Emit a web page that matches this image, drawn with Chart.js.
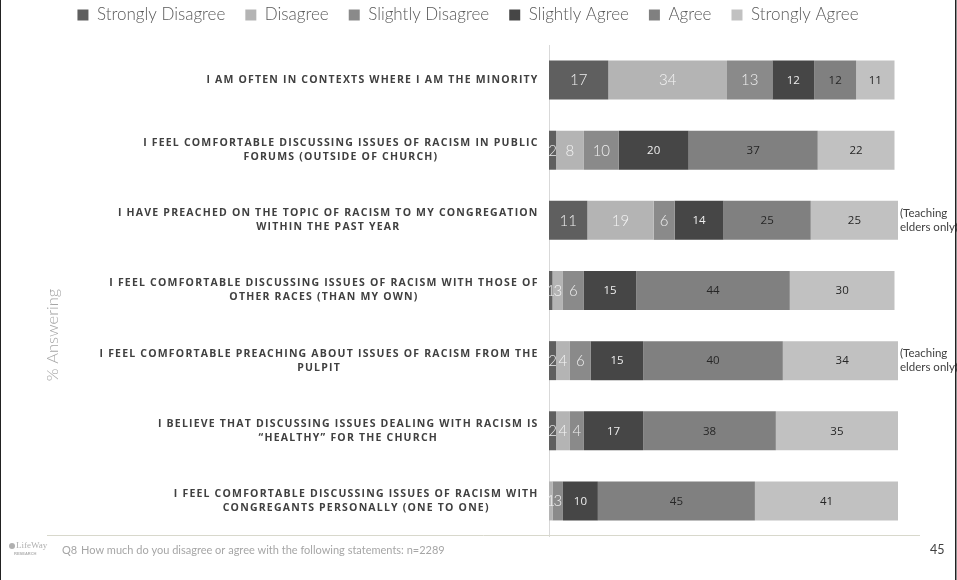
<!DOCTYPE html>
<html><head><meta charset="utf-8">
<script src="https://cdn.jsdelivr.net/npm/chart.js@4.4.1/dist/chart.umd.min.js"></script>
<style>html,body{margin:0;padding:0;background:#fff;} canvas{display:block;}</style>
</head><body>
<canvas id="c" width="957" height="580"></canvas>
<script>
// ---- data ----
const categories = [
  ["I AM OFTEN IN CONTEXTS WHERE I AM THE MINORITY"],
  ["I FEEL COMFORTABLE DISCUSSING ISSUES OF RACISM IN PUBLIC", "FORUMS (OUTSIDE OF CHURCH)"],
  ["I HAVE PREACHED ON THE TOPIC OF RACISM TO MY CONGREGATION", "WITHIN THE PAST YEAR"],
  ["I FEEL COMFORTABLE DISCUSSING ISSUES OF RACISM WITH THOSE OF", "OTHER RACES (THAN MY OWN)"],
  ["I FEEL COMFORTABLE PREACHING ABOUT ISSUES OF RACISM FROM THE", "PULPIT"],
  ["I BELIEVE THAT DISCUSSING ISSUES DEALING WITH RACISM IS", "\u201CHEALTHY\u201D FOR THE CHURCH"],
  ["I FEEL COMFORTABLE DISCUSSING ISSUES OF RACISM WITH", "CONGREGANTS PERSONALLY (ONE TO ONE)"]
];
const seriesNames = ["Strongly Disagree", "Disagree", "Slightly Disagree", "Slightly Agree", "Agree", "Strongly Agree"];
const stronglyDisagree = [17, 2, 11, 1, 2, 2, 0];
const disagree         = [34, 8, 19, 3, 4, 4, 1];
const slightlyDisagree = [13, 10, 6, 6, 6, 4, 3];
const slightlyAgree    = [12, 20, 14, 15, 15, 17, 10];
const agree            = [12, 37, 25, 44, 40, 38, 45];
const stronglyAgree    = [11, 22, 25, 30, 34, 35, 41];
const notes = ["", "", "(Teaching|elders only)", "", "(Teaching|elders only)", "", ""];
const yAxisTitle = "% Answering";
const footnote = ["Q8", "How much do you disagree or agree with the following statements: n=2289"];
const pageNumber = "45";

// ---- styles ----
const seriesValues = [stronglyDisagree, disagree, slightlyDisagree, slightlyAgree, agree, stronglyAgree];
const colors = ['#5f5f5f', '#b4b4b4', '#8a8a8a', '#464646', '#808080', '#c1c1c1'];
const valueColors = ['#eeeeee', '#f4f4f4', '#eeeeee', '#eeeeee', '#262626', '#262626'];
const valueFonts = ['300 15px Lato', '300 15px Lato', '300 15px Lato', '11.5px "Open Sans"', '11.5px "Open Sans"', '11.5px "Open Sans"'];

const legendSpace = {
  id: 'legendSpace',
  beforeLayout(chart) {
    const lg = chart.legend;
    if (lg && !lg._patched) {
      const orig = lg.fit;
      lg.fit = function () { orig.call(this); this.height = 58.5; };
      lg._patched = true;
    }
  }
};

const decor = {
  id: 'decor',
  beforeDraw(chart) {
    const ctx = chart.ctx;
    ctx.save();
    ctx.fillStyle = '#ffffff';
    ctx.fillRect(0, 0, chart.width, chart.height);
    ctx.restore();
  },
  afterDatasetsDraw(chart) {
    const ctx = chart.ctx;
    ctx.save();
    ctx.textAlign = 'center';
    ctx.textBaseline = 'middle';
    chart.data.datasets.forEach((ds, di) => {
      const meta = chart.getDatasetMeta(di);
      meta.data.forEach((el, j) => {
        const v = ds.data[j];
        if (!v) return;
        ctx.font = valueFonts[di];
        ctx.fillStyle = valueColors[di];
        ctx.fillText(String(v), (el.x + el.base) / 2, el.y + 0.5);
      });
    });
    ctx.restore();
  },
  afterDraw(chart) {
    const ctx = chart.ctx;
    const ys = chart.scales.y;
    const area = chart.chartArea;
    ctx.save();
    // category labels
    ctx.font = 'bold 10.5px "Open Sans"';
    ctx.letterSpacing = '1.2px';
    ctx.fillStyle = '#404040';
    ctx.textAlign = 'center';
    ctx.textBaseline = 'middle';
    const right = area.left - 11;
    categories.forEach((lines, i) => {
      const yc = ys.getPixelForValue(i);
      let maxW = 0;
      lines.forEach(l => { maxW = Math.max(maxW, ctx.measureText(l).width); });
      const cx = right - maxW / 2 + 0.6;
      const lh = 14;
      const y0 = yc - (lines.length - 1) * lh / 2;
      lines.forEach((l, k) => ctx.fillText(l, cx, y0 + k * lh));
    });
    ctx.letterSpacing = '0px';
    // notes on the right
    ctx.font = '11.5px Lato';
    ctx.fillStyle = '#404040';
    ctx.textAlign = 'left';
    notes.forEach((n, i) => {
      if (!n) return;
      const yc = ys.getPixelForValue(i);
      const parts = n.split('|');
      parts.forEach((p, k) => ctx.fillText(p, area.right + 2, yc - 7 + k * 14));
    });
    // y axis title
    ctx.save();
    ctx.translate(53, 335);
    ctx.rotate(-Math.PI / 2);
    ctx.font = '300 16.5px Lato';
    ctx.fillStyle = '#a6a6a6';
    ctx.textAlign = 'center';
    ctx.fillText(yAxisTitle, 0, 0);
    ctx.restore();
    // bottom rule
    ctx.strokeStyle = '#d8d8cc';
    ctx.lineWidth = 1;
    ctx.beginPath();
    ctx.moveTo(47, 535.5);
    ctx.lineTo(920, 535.5);
    ctx.stroke();
    // footnote
    ctx.font = '11px Lato';
    ctx.fillStyle = '#a6a6a6';
    ctx.textAlign = 'left';
    ctx.fillText(footnote[0], 62, 550);
    ctx.fillText(footnote[1], 81, 550);
    ctx.font = '12.5px Lato';
    ctx.fillStyle = '#404040';
    ctx.fillText(pageNumber, 930, 550);
    // logo
    ctx.fillStyle = '#b0b0b0';
    ctx.beginPath();
    ctx.arc(12, 546, 3, 0, Math.PI * 2);
    ctx.fill();
    ctx.font = '9px "Liberation Serif"';
    ctx.fillText('LifeWay', 16, 546);
    ctx.font = 'bold 4px "Liberation Sans"';
    ctx.fillText('RESEARCH', 14, 554);
    // page borders
    ctx.fillStyle = '#222';
    ctx.fillRect(0, 0, 1, chart.height);
    ctx.fillRect(955, 0, 1.5, chart.height);
    ctx.restore();
  }
};

new Chart(document.getElementById('c'), {
  type: 'bar',
  data: {
    labels: categories.map(c => c.join(' ')),
    datasets: seriesNames.map((name, i) => ({
      label: name,
      data: seriesValues[i],
      backgroundColor: colors[i],
      borderWidth: 0,
      barPercentage: 0.556,
      categoryPercentage: 1
    }))
  },
  options: {
    indexAxis: 'y',
    responsive: false,
    animation: false,
    layout: { padding: { top: -13.5, left: 38, right: 59, bottom: 44 } },
    scales: {
      x: { stacked: true, display: false, min: 0, max: 100 },
      y: {
        stacked: true,
        grid: { display: false },
        border: { display: true, color: '#d9d9d9', width: 1 },
        ticks: { display: false },
        afterFit(scale) { scale.width = 511; }
      }
    },
    plugins: {
      tooltip: { enabled: false },
      legend: {
        position: 'top',
        align: 'center',
        labels: {
          boxWidth: 11,
          boxHeight: 11,
          padding: 20,
          color: '#595959',
          font: { family: 'Lato', size: 17, weight: '300' }
        }
      }
    }
  },
  plugins: [legendSpace, decor]
});
</script>
</body></html>
